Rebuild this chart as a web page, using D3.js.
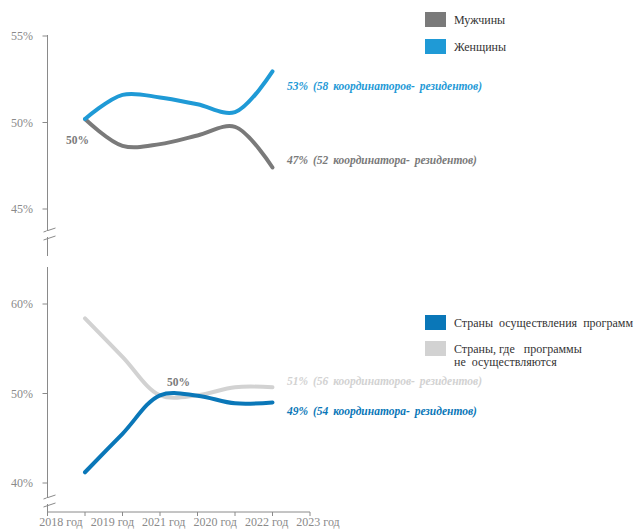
<!DOCTYPE html>
<html lang="ru">
<head>
<meta charset="UTF-8">
<script src="https://d3js.org/d3.v7.min.js"></script>
<style>
    body { margin: 0; background: #fff; }
    .tick-label { fill: #8a8a8a; font-size: 12px; }
    .legend-text { fill: #333; font-size: 12px; }
    .note { font-size: 11.5px; font-weight: bold; font-style: italic; word-spacing: 2px; }
</style>
</head>
<body>
<svg id="chart" width="636" height="529" style="font-family: 'Liberation Serif', 'Times New Roman', serif;"></svg>
<script>
    // data
    const years = ["2018 год", "2019 год", "2021 год", "2020 год", "2022 год", "2023 год"];
    const men = [50.2, 48.65, 48.75, 49.25, 49.75, 47.4];
    const women = [50.2, 51.6, 51.45, 51.05, 50.6, 52.95];
    const progCountries = [41.2, 45.5, 49.8, 49.75, 48.9, 49.0];
    const otherCountries = [58.4, 54.1, 49.8, 49.8, 50.7, 50.7];
    const topTicks = [45, 50, 55];
    const bottomTicks = [40, 50, 60];

    const svg = d3.select("#chart");
    const axisColor = "#8a8a8a";

    // shared x: 8 tick slots, data sit on slots 1..6
    const x = d3.scaleLinear().domain([0, 7]).range([47.5, 310]);
    const xLabel = d3.scalePoint().domain(years).range([61, 318]);

    const yTop = d3.scaleLinear().domain([45, 55]).range([209, 36]);
    const yBot = d3.scaleLinear().domain([40, 60]).range([483, 304]);

    function drawYAxis(y, ticks, y0, y1, breakY) {
        const g = svg.append("g");
        g.append("line")
            .attr("x1", x(0)).attr("x2", x(0))
            .attr("y1", y0).attr("y2", y1)
            .attr("stroke", axisColor).attr("stroke-width", 1);
        ticks.forEach(t => {
            g.append("line")
                .attr("x1", x(0) - 5).attr("x2", x(0))
                .attr("y1", y(t)).attr("y2", y(t))
                .attr("stroke", axisColor);
            g.append("text")
                .attr("class", "tick-label")
                .attr("x", 33).attr("y", y(t) + 4)
                .attr("text-anchor", "end")
                .text(t + "%");
        });
        // break marks
        [breakY, breakY + 8].forEach(by => {
            g.append("line")
                .attr("x1", x(0) - 4).attr("x2", x(0) + 8)
                .attr("y1", by + 2).attr("y2", by - 2)
                .attr("stroke", axisColor).attr("stroke-width", 1);
        });
        g.append("rect")
            .attr("x", x(0) - 1).attr("y", breakY + 1)
            .attr("width", 2).attr("height", 6)
            .attr("fill", "#fff");
    }

    drawYAxis(yTop, topTicks, 35, 256, 230);
    drawYAxis(yBot, bottomTicks, 267, 512, 497);

    // x axis
    const xg = svg.append("g");
    xg.append("line")
        .attr("x1", x(0)).attr("x2", x(7))
        .attr("y1", 512).attr("y2", 512)
        .attr("stroke", axisColor);
    d3.range(8).forEach(i => {
        xg.append("line")
            .attr("x1", x(i)).attr("x2", x(i))
            .attr("y1", 512).attr("y2", 516)
            .attr("stroke", axisColor);
    });
    years.forEach(yr => {
        xg.append("text")
            .attr("class", "tick-label")
            .attr("x", xLabel(yr)).attr("y", 526)
            .attr("text-anchor", "middle")
            .text(yr);
    });

    function drawLine(values, y, color) {
        const line = d3.line()
            .x((d, i) => x(i + 1))
            .y(d => y(d))
            .curve(d3.curveCatmullRom.alpha(0.5));
        svg.append("path")
            .datum(values)
            .attr("d", line)
            .attr("fill", "none")
            .attr("stroke", color)
            .attr("stroke-width", 4)
            .attr("stroke-linecap", "round");
    }

    const cMen = "#7a7a7a", cWomen = "#1f9ad6", cProg = "#0a77b8", cOther = "#d2d2d2";

    drawLine(otherCountries, yBot, cOther);
    drawLine(progCountries, yBot, cProg);
    drawLine(men, yTop, cMen);
    drawLine(women, yTop, cWomen);

    // annotations
    function note(text, xPos, yPos, color) {
        svg.append("text")
            .attr("class", "note")
            .attr("x", xPos).attr("y", yPos)
            .attr("fill", color)
            .text(text);
    }
    note("53%  (58 координаторов- резидентов)", 287, 90, cWomen);
    note("47%  (52 координатора- резидентов)", 287, 164, cMen);
    note("51% (56 координаторов- резидентов)", 287, 385, cOther);
    note("49%  (54 координатора- резидентов)", 287, 415, cProg);

    svg.append("text").attr("x", 66).attr("y", 144)
        .attr("fill", "#7a7a7a").attr("font-size", 11.5).attr("font-weight", "bold")
        .text("50%");
    svg.append("text").attr("x", 167).attr("y", 386)
        .attr("fill", "#7a7a7a").attr("font-size", 11.5).attr("font-weight", "bold")
        .text("50%");

    // legends
    function legendItem(yPos, color, lines) {
        svg.append("rect")
            .attr("x", 425).attr("y", yPos)
            .attr("width", 21).attr("height", 15)
            .attr("fill", color);
        lines.forEach((l, i) => {
            svg.append("text")
                .attr("class", "legend-text")
                .attr("x", 454).attr("y", yPos + 12 + i * 13)
                .style("white-space", "pre")
                .text(l);
        });
    }
    legendItem(12, cMen, ["Мужчины"]);
    legendItem(39, cWomen, ["Женщины"]);
    legendItem(315, cProg, ["Страны  осуществления  программ"]);
    legendItem(341, cOther, ["Страны, где   программы", "не  осуществляются"]);
</script>
</body>
</html>
